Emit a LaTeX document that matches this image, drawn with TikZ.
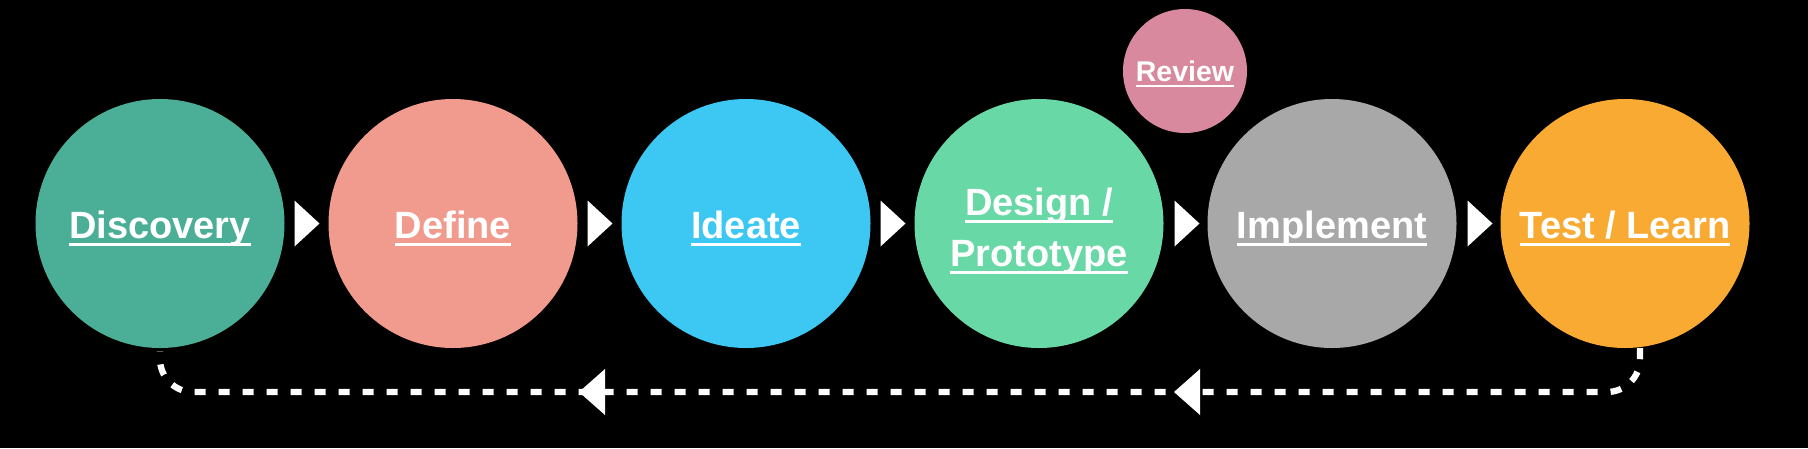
\documentclass[tikz,border=0pt]{standalone}
\usepackage{fontspec}
\setmainfont{Liberation Sans}
\usetikzlibrary{calc}
\definecolor{cDisc}{RGB}{75,175,151}
\definecolor{cDef}{RGB}{241,154,142}
\definecolor{cIde}{RGB}{60,200,242}
\definecolor{cDes}{RGB}{103,216,166}
\definecolor{cImp}{RGB}{168,168,168}
\definecolor{cTest}{RGB}{249,170,50}
\definecolor{cRev}{RGB}{216,137,158}
\newcommand\ulbox[1]{\leavevmode\setbox0\hbox{#1}\rlap{\vrule height -0.14em depth 0.21em width \wd0}\box0}
\tikzset{
  stage/.style={circle, minimum size=249pt, inner sep=0pt, draw=none},
  smallstage/.style={circle, minimum size=124pt, inner sep=0pt, draw=none},
  lbl/.style={text=white, font=\bfseries\fontsize{38}{46}\selectfont, anchor=base, inner sep=0pt},
  smalllbl/.style={text=white, font=\bfseries\fontsize{28.5}{34}\selectfont, anchor=base, inner sep=0pt},
  ret/.style={draw=white, line width=6.3pt, dash pattern=on 11pt off 13pt, rounded corners=33pt},
  fwd/.pic={\fill[white] (-12.5,-23) -- (12.5,0) -- (-12.5,23) -- cycle;},
  back/.pic={\fill[white] (13,-23) -- (-13,0) -- (13,23) -- cycle;}
}
\begin{document}
\begin{tikzpicture}[x=1pt,y=-1pt]
\fill[black] (0,0) rectangle (1808,448);
\useasboundingbox (0,0) rectangle (1808,448);
% stages
\node[stage, fill=cDisc] (c1) at (160,223.5) {};
\node[stage, fill=cDef]  (c2) at (453,223.5) {};
\node[stage, fill=cIde]  (c3) at (746,223.5) {};
\node[stage, fill=cDes]  (c4) at (1039,223.5) {};
\node[stage, fill=cImp]  (c5) at (1332,223.5) {};
\node[stage, fill=cTest] (c6) at (1625,223.5) {};
\node[smallstage, fill=cRev] (rv) at (1185,71) {};
% labels
\node[lbl] (t1) at ([yshift=-14.5pt]c1.center) {\ulbox{Discovery}};
\node[lbl] (t2) at ([yshift=-14.5pt]c2.center) {\ulbox{Define}};
\node[lbl] (t3) at ([yshift=-14.5pt]c3.center) {\ulbox{Ideate}};
\node[lbl] (t4a) at ([yshift=8.5pt]c4.center) {\ulbox{Design /}};
\node[lbl] (t4b) at ([yshift=-42.5pt]c4.center) {\ulbox{Prototype}};
\node[lbl] (t5) at ([yshift=-14.5pt]c5.center) {\ulbox{Implement}};
\node[lbl] (t6) at ([yshift=-14.5pt]c6.center) {\ulbox{Test / Learn}};
\node[smalllbl] (tr) at ([yshift=-10pt]rv.center) {\ulbox{Review}};
% forward arrows
\pic at ($(c1.east)!0.5!(c2.west)+(0.5,0)$) {fwd};
\pic at ($(c2.east)!0.5!(c3.west)+(0.5,0)$) {fwd};
\pic at ($(c3.east)!0.5!(c4.west)+(0.5,0)$) {fwd};
\pic at ($(c4.east)!0.5!(c5.west)+(1.5,0)$) {fwd};
\pic at ($(c5.east)!0.5!(c6.west)+(1.5,0)$) {fwd};
% return path
\coordinate (yline) at (0,392);
\coordinate (s) at ([xshift=15pt]c6.south);
\draw[ret] (s) -- (s |- yline) -- (c1.south |- yline) -- ([yshift=-3pt]c1.south);
\pic at (592,392) {back};
\pic at (1187,392) {back};
\end{tikzpicture}
\end{document}
